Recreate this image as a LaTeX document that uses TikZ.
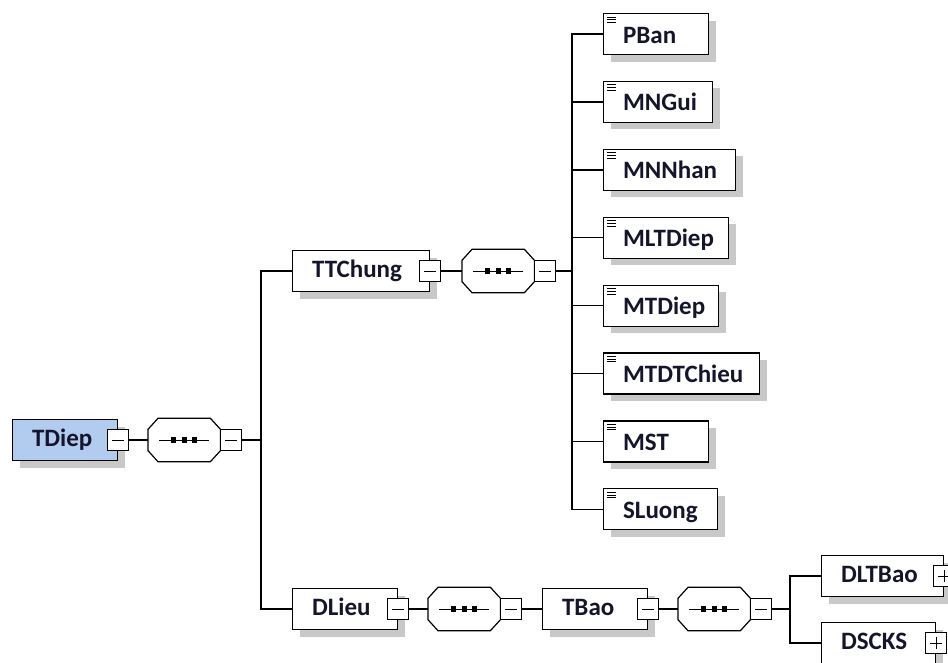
\documentclass[tikz,border=0pt]{standalone}
\usepackage{fontspec}
\setmainfont{Carlito}
\usetikzlibrary{shadows}
\definecolor{txt}{RGB}{20,20,45}
\definecolor{rootfill}{RGB}{178,204,240}
\definecolor{shadowgray}{RGB}{200,200,200}
\newcommand\boxtxt[2]{\makebox[#1pt][l]{\hspace*{19.5pt}#2}}
\newcommand\leaftxt[2]{\makebox[#1pt][l]{\hspace*{19.5pt}\raisebox{-3pt}{#2}}}
% octagon (sequence compositor) drawn on a named node
\newcommand\octo[1]{%
  \fill[shadowgray,shift={(7pt,-7pt)}] ([xshift=10pt]#1.north west) -- ([xshift=-10pt]#1.north east)
    -- ([yshift=-11pt]#1.north east) -- ([yshift=11pt]#1.south east) -- ([xshift=-10pt]#1.south east)
    -- ([xshift=10pt]#1.south west) -- ([yshift=11pt]#1.south west) -- ([yshift=-11pt]#1.north west) -- cycle;
  \draw[line width=1.2pt,fill=white] ([xshift=10pt]#1.north west) -- ([xshift=-10pt]#1.north east)
    -- ([yshift=-11pt]#1.north east) -- ([yshift=11pt]#1.south east) -- ([xshift=-10pt]#1.south east)
    -- ([xshift=10pt]#1.south west) -- ([yshift=11pt]#1.south west) -- ([yshift=-11pt]#1.north west) -- cycle;
  \draw[line width=1pt] ([xshift=-25pt]#1.center) -- ([xshift=25pt]#1.center);
  \fill[black] ([xshift=-10.5pt]#1.center) +(-2.6pt,-2.6pt) rectangle +(2.6pt,2.6pt);
  \fill[black] (#1.center) +(-2.6pt,-2.6pt) rectangle +(2.6pt,2.6pt);
  \fill[black] ([xshift=10.5pt]#1.center) +(-2.6pt,-2.6pt) rectangle +(2.6pt,2.6pt);}
\begin{document}
\begin{tikzpicture}[x=1pt,y=-1pt,
  shd/.style={drop shadow={shadow xshift=7pt,shadow yshift=-7pt,fill=shadowgray,opacity=1}},
  elbox/.style={rectangle,draw=black,line width=1.2pt,fill=white,minimum height=41pt,
    inner sep=0pt,anchor=west,font=\fontsize{25}{29}\selectfont\bfseries,text=txt,
    text height=16pt,text depth=4pt,shd},
  leaf/.style={elbox,path picture={
    \draw[line width=1pt] ([xshift=3.5pt,yshift=-3.5pt]path picture bounding box.north west) -- ++(8.5pt,0pt);
    \draw[line width=1pt] ([xshift=3.5pt,yshift=-6.2pt]path picture bounding box.north west) -- ++(8.5pt,0pt);
    \draw[line width=1pt] ([xshift=3.5pt,yshift=-8.9pt]path picture bounding box.north west) -- ++(8.5pt,0pt);}},
  tog/.style={rectangle,draw=black,line width=1pt,fill=white,minimum size=21pt,inner sep=0pt},
  minusbox/.style={tog,path picture={
    \draw[line width=1pt] ([xshift=4.5pt]path picture bounding box.west) -- ([xshift=-4.5pt]path picture bounding box.east);}},
  plusbox/.style={tog,path picture={
    \draw[line width=1pt] ([xshift=4.5pt]path picture bounding box.west) -- ([xshift=-4.5pt]path picture bounding box.east);
    \draw[line width=1pt] ([yshift=-4.5pt]path picture bounding box.north) -- ([yshift=4.5pt]path picture bounding box.south);}},
  seq/.style={rectangle,minimum width=72pt,minimum height=43pt,inner sep=0pt,anchor=west},
  conn/.style={line width=1.4pt,draw=black}]
\path[use as bounding box,fill=white] (0,0) rectangle (948,662);

% root
\node[elbox,fill=rootfill] (tdiep) at (12,440) {\boxtxt{105}{TDiep}};
\node[minusbox] (tdiepT) at (tdiep.east) {};
\node[seq] (sq1) at (148,440) {};
\octo{sq1}
\node[minusbox,anchor=west] (sq1T) at (sq1.east) {};
\coordinate (b1) at (261,440);

% TTChung
\node[elbox] (ttchung) at (292,271) {\boxtxt{137}{TTChung}};
\node[minusbox] (ttchungT) at (ttchung.east) {};
\node[seq] (sq2) at (462,271) {};
\octo{sq2}
\node[minusbox,anchor=west] (sq2T) at (sq2.east) {};
\coordinate (b2) at (572,271);

\node[leaf] (pban)     at (603,34)    {\leaftxt{105}{PBan}};
\node[leaf] (mngui)    at (603,101.9) {\leaftxt{109}{MNGui}};
\node[leaf] (mnnhan)   at (603,169.8) {\leaftxt{132}{MNNhan}};
\node[leaf] (mltdiep)  at (603,237.7) {\leaftxt{125}{MLTDiep}};
\node[leaf] (mtdiep)   at (603,305.6) {\leaftxt{115}{MTDiep}};
\node[leaf] (mtdtchieu) at (603,373.5) {\leaftxt{156}{MTDTChieu}};
\node[leaf] (mst)      at (603,441.4) {\leaftxt{105}{MST}};
\node[leaf] (sluong)   at (603,509.3) {\leaftxt{114}{SLuong}};

% DLieu
\node[elbox] (dlieu) at (292,609) {\boxtxt{105}{DLieu}};
\node[minusbox] (dlieuT) at (dlieu.east) {};
\node[seq] (sq3) at (428,609) {};
\octo{sq3}
\node[minusbox,anchor=west] (sq3T) at (sq3.east) {};

\node[elbox] (tbao) at (542,609) {\boxtxt{105}{TBao}};
\node[minusbox] (tbaoT) at (tbao.east) {};
\node[seq] (sq4) at (678,609) {};
\octo{sq4}
\node[minusbox,anchor=west] (sq4T) at (sq4.east) {};
\coordinate (b4) at (790,609);

\node[elbox] (dltbao) at (821,576) {\boxtxt{122}{DLTBao}};
\node[plusbox] (dltbaoT) at (dltbao.east) {};
\node[elbox] (dscks) at (821,643) {\boxtxt{114}{DSCKS}};
\node[plusbox] (dscksT) at (dscks.east) {};

% connectors
\draw[conn] (tdiepT.east) -- (sq1.west);
\draw[conn] (sq1T.east) -- (b1);
\draw[conn] (ttchung.west) -| (b1) |- (dlieu.west);
\draw[conn] (ttchungT.east) -- (sq2.west);
\draw[conn] (sq2T.east) -- (b2);
\foreach \n in {pban,mngui,mnnhan,mltdiep,mtdiep,mtdtchieu,mst,sluong}
  \draw[conn] (\n.west) -| (b2);
\draw[conn] (dlieuT.east) -- (sq3.west);
\draw[conn] (sq3T.east) -- (tbao.west);
\draw[conn] (tbaoT.east) -- (sq4.west);
\draw[conn] (sq4T.east) -- (b4);
\draw[conn] (dltbao.west) -| (b4) |- (dscks.west);
\end{tikzpicture}
\end{document}
